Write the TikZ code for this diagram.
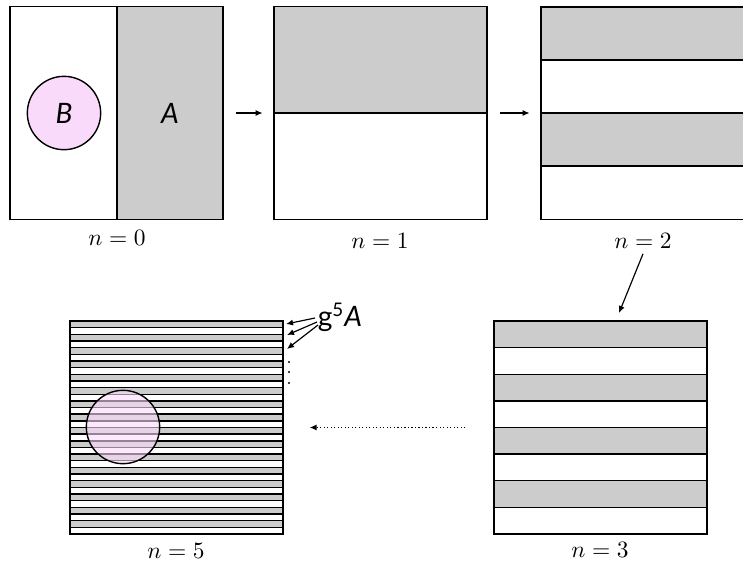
\documentclass[tikz,border=0pt]{standalone}
\usepackage{fontspec}
\newfontfamily\labelfont{Lato}
\usetikzlibrary{positioning,arrows.meta}
\definecolor{bpink}{RGB}{250,218,250}
\definecolor{band}{RGB}{204,204,204}

\begin{document}
\begin{tikzpicture}[x=0.015cm, y=-0.015cm,
    box/.style={draw, line width=0.6pt, minimum width=3.195cm, minimum height=3.195cm, inner sep=0pt},
    bandbox/.style={draw, line width=0.6pt, fill=band},
    disc/.style={draw, line width=0.6pt, circle, minimum size=1.1cm, inner sep=0pt, fill=bpink},
    setlabel/.style={font=\labelfont\large\itshape},
    steparrow/.style={-{Latex[length=3pt,width=2.6pt]}, line width=0.5pt}]
    \clip (0,0) rectangle (743,561);

    % n = 0
    \fill[band] (117,7) rectangle (223,219);
    \draw[line width=0.6pt] (117,7) -- (117,219);
    \node (b0) [box] at (116.5,113) {};
    \node (d0) [disc, setlabel] at (64,113) {B};
    \node (a0) [setlabel] at (170,113) {A};
    \node (n0) at (117,238) {$n=0$};

    % n = 1
    \fill[band] (274,7) rectangle (487,113);
    \draw[line width=0.6pt] (274,113) -- (487,113);
    \node (b1) [box] at (380.5,113) {};
    \node (n1) at (380,241) {$n=1$};

    % n = 2
    \foreach \y in {7,113}
        \draw[bandbox] (541,\y) rectangle (754,\y+53);
    \node (b2) [box] at (647.5,113) {};
    \node (n2) at (643,241) {$n=2$};

    % n = 3
    \foreach \i in {0,...,3}
        \draw[bandbox] (494,{321+53.25*\i}) rectangle (707,{347.625+53.25*\i});
    \node (b3) [box] at (600.5,427.5) {};
    \node (n3) at (600,550) {$n=3$};
    \coordinate (in3) at (619,313);

    % n = 5
    \foreach \i in {0,...,15}
        \draw[bandbox] (70,{321+13.3125*\i}) rectangle (283,{327.656+13.3125*\i});
    \node (b5) [box] at (176.5,427.5) {};
    \node (d5) [disc, fill opacity=0.6] at (123,427) {};
    \node (n5) at (176,551) {$n=5$};
    \node (g5) [font=\labelfont\large] at (340,317) {g\textsuperscript{5}\textit{A}};
    \foreach \y in {362,372,383}
        \fill (289,\y) circle (0.5pt);
    \coordinate (t1) at (286,324);
    \coordinate (t2) at (287,335);
    \coordinate (t3) at (287,349);

    % Arrows between the steps
    \draw[steparrow, shorten <=0.18cm, shorten >=0.16cm] (b0) -- (b1);
    \draw[steparrow, shorten <=0.19cm, shorten >=0.16cm] (b1) -- (b2);
    \draw[steparrow] (n2.south) ++(0,-3) -- (in3);
    \draw[steparrow, densely dotted, shorten <=0.42cm, shorten >=0.39cm] (b3) -- (b5);
    \draw[steparrow] (315,318) -- (t1);
    \draw[steparrow] (317,322) -- (t2);
    \draw[steparrow] (318,325) -- (t3);
\end{tikzpicture}
\end{document}
